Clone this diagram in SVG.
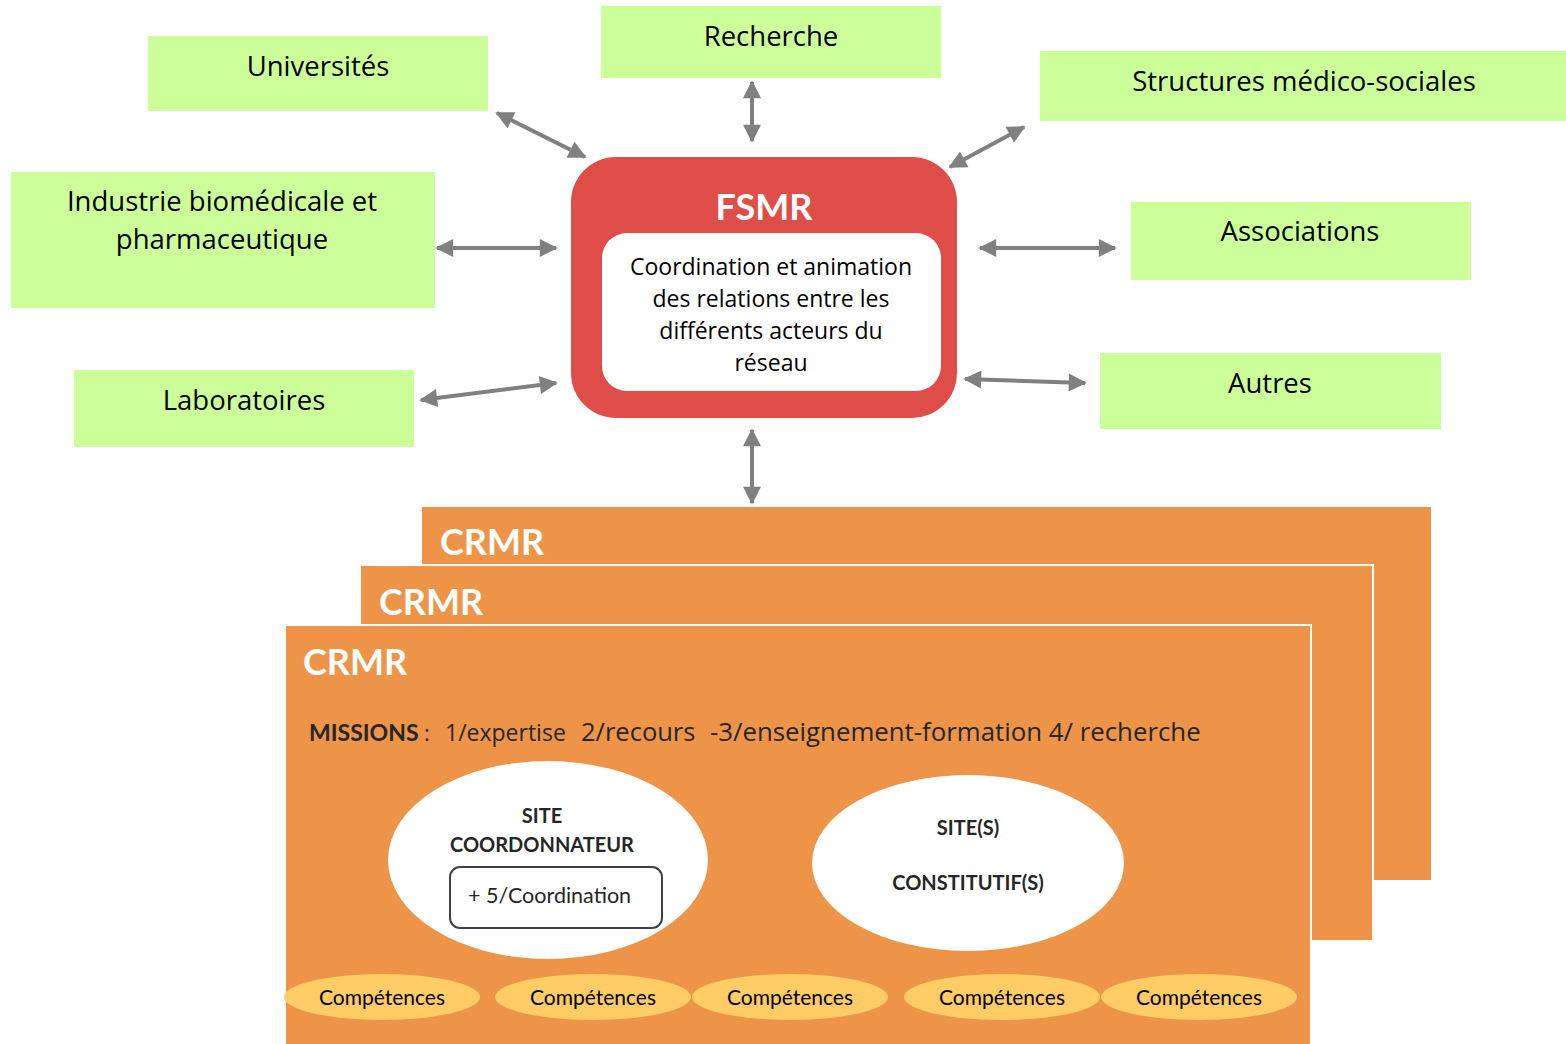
<svg xmlns="http://www.w3.org/2000/svg" width="1566" height="1044" viewBox="0 0 1566 1044">
<style>
text{font-family:Lato,"Open Sans","Liberation Sans",sans-serif}
.os{font-family:"Open Sans",Lato,"Liberation Sans",sans-serif}
.g{fill:#CCFF99}
.gt{font-size:27.5px;fill:#000;text-anchor:middle}
.ft{font-size:23px;fill:#000;text-anchor:middle}
.crmr{fill:#ED9449;stroke:#FFFFFF;stroke-width:2}
.ct{font-size:36px;font-weight:bold;fill:#fff}
.arr{stroke:#808080;stroke-width:4;fill:none;marker-start:url(#ah);marker-end:url(#ah)}
.comp{fill:#FFCC66}
.cpt{font-size:21px;fill:#000;text-anchor:middle}
.st{font-size:20px;font-weight:bold;fill:#262626;text-anchor:middle}
</style>
<defs>
<marker id="ah" viewBox="0 0 10 10" refX="9" refY="5" markerWidth="5" markerHeight="4.5" orient="auto-start-reverse" markerUnits="strokeWidth">
<path d="M0,0 L10,5 L0,10 z" fill="#808080"/>
</marker>
</defs>
<rect width="1566" height="1044" fill="#fff"/>
<g id="universites"><rect class="g" x="148" y="36" width="340" height="75"/><text class="gt os" x="318" y="76">Universités</text></g>
<g id="recherche"><rect class="g" x="601" y="6" width="340" height="72"/><text class="gt os" x="771" y="46">Recherche</text></g>
<g id="structures"><rect class="g" x="1040" y="51" width="526" height="70"/><text class="gt os" x="1304" y="91">Structures médico-sociales</text></g>
<g id="industrie"><rect class="g" x="11" y="172" width="424" height="136"/><text class="gt os" x="222" y="211">Industrie biomédicale et</text><text class="gt os" x="222" y="249">pharmaceutique</text></g>
<g id="associations"><rect class="g" x="1131" y="202" width="340" height="78"/><text class="gt os" x="1300" y="241">Associations</text></g>
<g id="laboratoires"><rect class="g" x="74" y="370" width="340" height="77"/><text class="gt os" x="244" y="410">Laboratoires</text></g>
<g id="autres"><rect class="g" x="1100" y="353" width="341" height="76"/><text class="gt os" x="1270" y="393">Autres</text></g>
<g id="fsmr">
<rect x="571" y="157" width="386" height="261" rx="45" fill="#DE4D47"/>
<text x="764" y="220" font-size="36" font-weight="bold" fill="#fff" text-anchor="middle">FSMR</text>
<rect x="602" y="233" width="339" height="158" rx="25" fill="#fff"/>
<text class="ft os" x="771" y="275">Coordination et animation</text>
<text class="ft os" x="771" y="307">des relations entre les</text>
<text class="ft os" x="771" y="339">différents acteurs du</text>
<text class="ft os" x="771" y="371">réseau</text>
</g>
<g id="connectors">
<line class="arr" x1="497" y1="113" x2="585" y2="157"/>
<line class="arr" x1="752" y1="82" x2="752" y2="141"/>
<line class="arr" x1="950" y1="167" x2="1024" y2="127"/>
<line class="arr" x1="437" y1="248" x2="556" y2="248"/>
<line class="arr" x1="980" y1="248" x2="1115" y2="248"/>
<line class="arr" x1="421" y1="400" x2="556" y2="383"/>
<line class="arr" x1="965" y1="379" x2="1085" y2="383"/>
<line class="arr" x1="752" y1="430" x2="752" y2="503"/>
</g>
<g id="crmr3"><rect class="crmr" x="421" y="506" width="1011" height="375" stroke-width="1.5"/><text class="ct" x="440" y="555">CRMR</text></g>
<g id="crmr2"><rect class="crmr" x="360" y="565" width="1013" height="376"/><text class="ct" x="379" y="615">CRMR</text></g>
<g id="crmr1"><rect class="crmr" x="285" y="625" width="1026" height="430"/><text class="ct" x="303" y="675">CRMR</text>
<text y="741" fill="#262626"><tspan x="309" font-size="23" font-weight="bold">MISSIONS</tspan><tspan x="424" font-size="22" class="os">:</tspan><tspan x="445" font-size="23" class="os">1/expertise</tspan><tspan x="581" font-size="25.5" class="os">2/recours</tspan><tspan x="710" font-size="25.8" class="os">-3/enseignement-formation 4/ recherche</tspan></text>
</g>
<g id="site-coord">
<ellipse cx="548" cy="860" rx="160" ry="99" fill="#fff"/>
<text class="st" x="542" y="823">SITE</text>
<text class="st" x="542" y="852">COORDONNATEUR</text>
<rect x="450" y="867" width="212" height="61" rx="10" fill="#fff" stroke="#404040" stroke-width="2"/>
<text x="468" y="903" font-size="21.5" fill="#262626">+ 5/Coordination</text>
</g>
<g id="site-const">
<ellipse cx="968" cy="863" rx="156" ry="88" fill="#fff"/>
<text class="st" x="968" y="835">SITE(S)</text>
<text class="st" x="968" y="890">CONSTITUTIF(S)</text>
</g>
<g id="comp1"><ellipse class="comp" cx="382" cy="997" rx="98" ry="23"/><text class="cpt" x="382" y="1005">Compétences</text></g>
<g id="comp2"><ellipse class="comp" cx="593" cy="997" rx="98" ry="23"/><text class="cpt" x="593" y="1005">Compétences</text></g>
<g id="comp3"><ellipse class="comp" cx="790" cy="997" rx="98" ry="23"/><text class="cpt" x="790" y="1005">Compétences</text></g>
<g id="comp4"><ellipse class="comp" cx="1002" cy="997" rx="98" ry="23"/><text class="cpt" x="1002" y="1005">Compétences</text></g>
<g id="comp5"><ellipse class="comp" cx="1199" cy="997" rx="98" ry="23"/><text class="cpt" x="1199" y="1005">Compétences</text></g>
</svg>
